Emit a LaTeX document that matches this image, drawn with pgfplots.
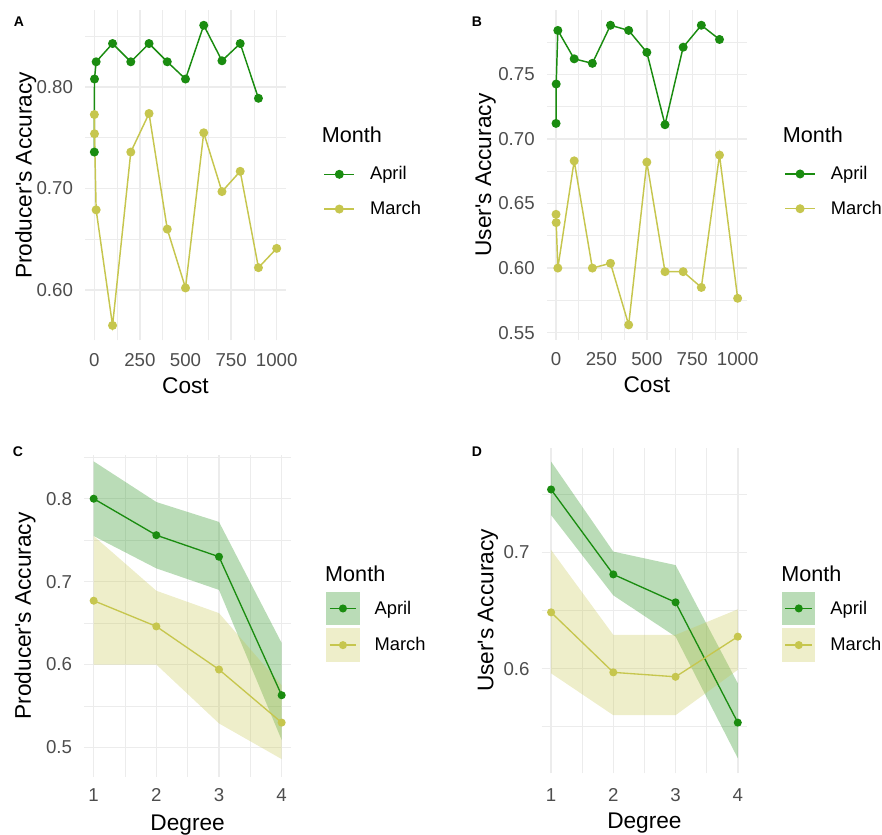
\documentclass[border=0pt]{standalone}
\usepackage{fontspec}
\setmainfont{Liberation Sans}
\usepackage{pgfplots}
\pgfplotsset{compat=1.18}

\definecolor{aprilc}{RGB}{26,140,16}
\definecolor{marchc}{RGB}{198,198,78}
\definecolor{gridc}{RGB}{236,236,236}
\definecolor{tickc}{RGB}{77,77,77}

\newcommand{\labfont}{\fontsize{17}{20}\selectfont}

\pgfplotsset{
  base/.style={
    scale only axis, clip=false,
    axis line style={draw=none},
    major tick length=0pt, minor tick length=0pt,
    grid=both,
    major grid style={gridc, line width=1.1pt},
    minor grid style={gridc, line width=0.55pt},
    tick label style={font=\fontsize{14}{16}\selectfont, text=tickc, inner sep=0pt},
    yticklabel style={anchor=east, xshift=-9pt},
    legend cell align=left,
    legend style={draw=none, fill=none, inner sep=0pt, anchor=west,
      font=\fontsize{13.75}{16}\selectfont,
      nodes={inner sep=0pt},
      /tikz/every odd column/.append style={column sep=11.25pt}},
  },
  costaxis/.style={base,
    xmin=-50, xmax=1050,
    xtick={0,250,500,750,1000}, xticklabels={0,250,500,750,1000},
    minor xtick={125,375,625,875},
    xticklabel style={anchor=center, yshift=-14.6pt},
    every axis x label/.style={at={(axis description cs:0.5,0)}, anchor=north, yshift=-27.4pt, font=\labfont, inner sep=0pt},
    xlabel={Cost},
    legend style={row sep=14.6pt},
    legend image code/.code={\draw[mark repeat=2,mark phase=2] plot coordinates {(0pt,0pt) (11.25pt,0pt) (22.5pt,0pt)};},
  },
  degaxis/.style={base,
    xmin=0.85, xmax=4.15,
    xtick={1,2,3,4}, xticklabels={1,2,3,4},
    minor xtick={1.5,2.5,3.5},
    legend style={row sep=2.5pt},
    xlabel={Degree},
  },
  aprA/.style={color=aprilc, line width=1.1pt, mark=*, mark size=2.8pt, mark options={solid, fill=aprilc}},
  marA/.style={color=marchc, line width=1.1pt, mark=*, mark size=2.8pt, mark options={solid, fill=marchc}},
  aprC/.style={color=aprilc, line width=1pt, mark=*, mark size=2.5pt, mark options={solid, fill=aprilc}},
  marC/.style={color=marchc, line width=1pt, mark=*, mark size=2.5pt, mark options={solid, fill=marchc}},
}

\begin{document}
\begin{tikzpicture}
\path[use as bounding box] (0pt,0pt) rectangle (661.5pt,-626.25pt);

% ---------------- A ----------------
\begin{axis}[costaxis,
  at={(63.9pt,-7.7pt)}, anchor=north west,
  width=150.45pt, height=247.65pt,
  ymin=0.5502, ymax=0.8758,
  ytick={0.6,0.7,0.8}, yticklabels={0.60,0.70,0.80},
  minor ytick={0.65,0.75,0.85},
  every axis y label/.style={at={([xshift=-44.6pt]axis description cs:0,0.5)}, rotate=90, anchor=center, font=\labfont, inner sep=0pt},
  ylabel={Producer\textquotesingle s Accuracy},
  legend style={at={(axis description cs:1.187,0.4506)}},
]
\addplot[aprA] coordinates {(0.1,0.736) (1,0.808) (10,0.825) (100,0.843) (200,0.825) (300,0.843) (400,0.825) (500,0.808) (600,0.861) (700,0.826) (800,0.843) (900,0.789)};
\addlegendentry{April}
\addplot[marA] coordinates {(0.1,0.773) (1,0.754) (10,0.679) (100,0.565) (200,0.736) (300,0.774) (400,0.660) (500,0.602) (600,0.755) (700,0.697) (800,0.717) (900,0.622) (1000,0.641)};
\addlegendentry{March}
\node[anchor=west, inner sep=0pt, font=\fontsize{16.2}{19}\selectfont] at (axis description cs:1.179,0.622) {Month};
\end{axis}

% ---------------- B ----------------
\begin{axis}[costaxis,
  at={(410.2pt,-7.7pt)}, anchor=north west,
  width=149.85pt, height=247.2pt,
  ymin=0.5444, ymax=0.7996,
  ytick={0.55,0.6,0.65,0.7,0.75}, yticklabels={0.55,0.60,0.65,0.70,0.75},
  minor ytick={0.575,0.625,0.675,0.725,0.775},
  every axis y label/.style={at={([xshift=-46pt]axis description cs:0,0.5)}, rotate=90, anchor=center, font=\labfont, inner sep=0pt},
  ylabel={User\textquotesingle s Accuracy},
  legend style={at={(axis description cs:1.187,0.4506)}},
]
\addplot[aprA] coordinates {(0.1,0.712) (1,0.7425) (10,0.784) (100,0.762) (200,0.7585) (300,0.788) (400,0.784) (500,0.767) (600,0.711) (700,0.771) (800,0.788) (900,0.777)};
\addlegendentry{April}
\addplot[marA] coordinates {(0.1,0.6416) (1,0.6352) (10,0.600) (100,0.683) (200,0.600) (300,0.6037) (400,0.556) (500,0.682) (600,0.5972) (700,0.5972) (800,0.585) (900,0.6875) (1000,0.5766)};
\addlegendentry{March}
\node[anchor=west, inner sep=0pt, font=\fontsize{16.2}{19}\selectfont] at (axis description cs:1.18,0.622) {Month};
\end{axis}

% ---------------- C ----------------
\begin{axis}[degaxis,
  at={(63.2pt,-341.25pt)}, anchor=north west,
  width=155.1pt, height=241.3pt,
  ymin=0.4647, ymax=0.8527,
  ytick={0.5,0.6,0.7,0.8}, yticklabels={0.5,0.6,0.7,0.8},
  minor ytick={0.55,0.65,0.75,0.85},
  xticklabel style={anchor=center, yshift=-13.7pt},
  every axis x label/.style={at={(axis description cs:0.5,0)}, anchor=north, yshift=-28.7pt, font=\labfont, inner sep=0pt},
  every axis y label/.style={at={([xshift=-44.5pt]axis description cs:0,0.5)}, rotate=90, anchor=center, font=\labfont, inner sep=0pt},
  ylabel={Producer\textquotesingle s Accuracy},
  legend style={at={(axis description cs:1.169,0.466)}},
]
\addlegendimage{aprC, legend image code/.code={\fill[aprilc, fill opacity=0.3, draw=none] (0pt,-12.5pt) rectangle (25pt,12.5pt); \draw[mark repeat=2,mark phase=2] plot coordinates {(2.5pt,0pt) (12.5pt,0pt) (22.5pt,0pt)};}}
\addlegendentry{April}
\addlegendimage{marC, legend image code/.code={\fill[marchc, fill opacity=0.3, draw=none] (0pt,-12.5pt) rectangle (25pt,12.5pt); \draw[mark repeat=2,mark phase=2] plot coordinates {(2.5pt,0pt) (12.5pt,0pt) (22.5pt,0pt)};}}
\addlegendentry{March}
\addplot[fill=aprilc, fill opacity=0.3, draw=none, forget plot] coordinates {(1,0.845) (2,0.796) (3,0.772) (4,0.626) (4,0.509) (3,0.690) (2,0.716) (1,0.755)} -- cycle;
\addplot[fill=marchc, fill opacity=0.3, draw=none, forget plot] coordinates {(1,0.755) (2,0.689) (3,0.662) (4,0.575) (4,0.486) (3,0.529) (2,0.600) (1,0.600)} -- cycle;
\addplot[aprC, forget plot] coordinates {(1,0.800) (2,0.756) (3,0.730) (4,0.563)};
\addplot[marC, forget plot] coordinates {(1,0.677) (2,0.646) (3,0.594) (4,0.530)};
\node[anchor=west, inner sep=0pt, font=\fontsize{16.2}{19}\selectfont] at (axis description cs:1.164,0.630) {Month};
\end{axis}

% ---------------- D ----------------
\begin{axis}[degaxis,
  at={(406.3pt,-335.7pt)}, anchor=north west,
  width=154.05pt, height=244.3pt,
  ymin=0.51, ymax=0.79,
  ytick={0.6,0.7}, yticklabels={0.6,0.7},
  minor ytick={0.55,0.65,0.75},
  xticklabel style={anchor=center, yshift=-16.2pt},
  every axis x label/.style={at={(axis description cs:0.5,0)}, anchor=north, yshift=-29.7pt, font=\labfont, inner sep=0pt},
  every axis y label/.style={at={([xshift=-40.3pt]axis description cs:0,0.5)}, rotate=90, anchor=center, font=\labfont, inner sep=0pt},
  ylabel={User\textquotesingle s Accuracy},
  legend style={at={(axis description cs:1.169,0.450)}},
]
\addlegendimage{aprC, legend image code/.code={\fill[aprilc, fill opacity=0.3, draw=none] (0pt,-12.5pt) rectangle (25pt,12.5pt); \draw[mark repeat=2,mark phase=2] plot coordinates {(2.5pt,0pt) (12.5pt,0pt) (22.5pt,0pt)};}}
\addlegendentry{April}
\addlegendimage{marC, legend image code/.code={\fill[marchc, fill opacity=0.3, draw=none] (0pt,-12.5pt) rectangle (25pt,12.5pt); \draw[mark repeat=2,mark phase=2] plot coordinates {(2.5pt,0pt) (12.5pt,0pt) (22.5pt,0pt)};}}
\addlegendentry{March}
\addplot[fill=aprilc, fill opacity=0.3, draw=none, forget plot] coordinates {(1,0.778) (2,0.7006) (3,0.689) (4,0.5874) (4,0.523) (3,0.6275) (2,0.663) (1,0.732)} -- cycle;
\addplot[fill=marchc, fill opacity=0.3, draw=none, forget plot] coordinates {(1,0.702) (2,0.629) (3,0.629) (4,0.651) (4,0.599) (3,0.560) (2,0.560) (1,0.596)} -- cycle;
\addplot[aprC, forget plot] coordinates {(1,0.754) (2,0.681) (3,0.657) (4,0.5536)};
\addplot[marC, forget plot] coordinates {(1,0.6484) (2,0.5968) (3,0.593) (4,0.6275)};
\node[anchor=west, inner sep=0pt, font=\fontsize{16.2}{19}\selectfont] at (axis description cs:1.165,0.612) {Month};
\end{axis}

% panel letters
\node[font=\fontsize{10.5}{12}\selectfont\bfseries, inner sep=0pt] at (14.25pt,-16.5pt) {A};
\node[font=\fontsize{10.5}{12}\selectfont\bfseries, inner sep=0pt] at (357.75pt,-16.5pt) {B};
\node[font=\fontsize{10.5}{12}\selectfont\bfseries, inner sep=0pt] at (13.5pt,-339pt) {C};
\node[font=\fontsize{10.5}{12}\selectfont\bfseries, inner sep=0pt] at (357.75pt,-339pt) {D};
\end{tikzpicture}
\end{document}
